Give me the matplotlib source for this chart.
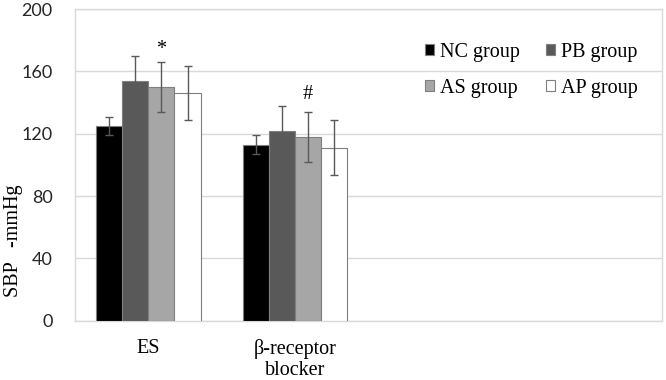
import numpy as np
import matplotlib.pyplot as plt

categories = ['ES', 'β-receptor\nblocker', '', '']
groups = ['NC group', 'PB group', 'AS group', 'AP group']
colors = ['#000000', '#595959', '#a6a6a6', '#ffffff']

nc_mean = [125, 113]
pb_mean = [154, 122]
as_mean = [150, 118]
ap_mean = [146, 111]
nc_sd = [6, 6]
pb_sd = [16, 16]
as_sd = [16, 16]
ap_sd = [17.5, 17.5]

means = [nc_mean, pb_mean, as_mean, ap_mean]
sds = [nc_sd, pb_sd, as_sd, ap_sd]

# significance marks: (category index, group index, y, text)
marks = [(0, 2, 174, '*'), (1, 2, 145, '#')]

serif = 'Liberation Serif'
grid_c = '#d9d9d9'

fig = plt.figure(figsize=(6.66, 3.8), dpi=100)
ax = fig.add_axes([75/666, 1-320.7/380, (662-75)/666, (320.7-9)/380])

x = np.arange(len(categories))
w = 0.178
bars = []
for i, (m, s) in enumerate(zip(means, sds)):
    xi = x[:len(m)] + (i - 1.5) * w
    b = ax.bar(xi, m, w, color=colors[i], edgecolor='#7f7f7f', linewidth=0.8,
               label=groups[i], zorder=3)
    bars.append(b)
    ax.errorbar(xi, m, yerr=s, fmt='none', ecolor='#595959', elinewidth=1,
                capsize=3, capthick=1, zorder=4)

for ci, gi, y, t in marks:
    ax.text(x[ci] + (gi - 1.5) * w, y, t, ha='center', va='center',
            fontsize=14.5, family=serif)

ax.set_xlim(-0.5, len(categories) - 0.5)
ax.set_ylim(0, 200)
ax.set_yticks(np.arange(0, 201, 40))
ax.yaxis.grid(True, color=grid_c, linewidth=1, zorder=0)
ax.set_axisbelow(True)
for sp in ax.spines.values():
    sp.set_color(grid_c)
    sp.set_linewidth(1)

ax.set_xticks(x)
ax.set_xticklabels(categories, fontsize=14.5, family=serif, linespacing=1.15)
ax.tick_params(axis='x', length=0, pad=13)
ax.tick_params(axis='y', length=0, pad=16, labelsize=13, labelcolor='#262626')
for lab in ax.get_yticklabels():
    lab.set_family('Lato')

ax.set_ylabel('SBP   -mmHg', fontsize=14.5, family=serif)
ax.yaxis.set_label_coords(-0.104, 0.255)
ax.yaxis.label.set_verticalalignment('center')

# row-major order: NC, PB / AS, AP
order = [0, 2, 1, 3]
ax.legend([bars[k] for k in order], [groups[k] for k in order],
          ncol=2, frameon=False, loc='upper right',
          bbox_to_anchor=(0.99, 0.95), prop={'family': serif, 'size': 14.5},
          handlelength=0.45, handleheight=0.45, handletextpad=0.3,
          columnspacing=1.3, labelspacing=0.85)

fig.savefig('out.png', dpi=100)
